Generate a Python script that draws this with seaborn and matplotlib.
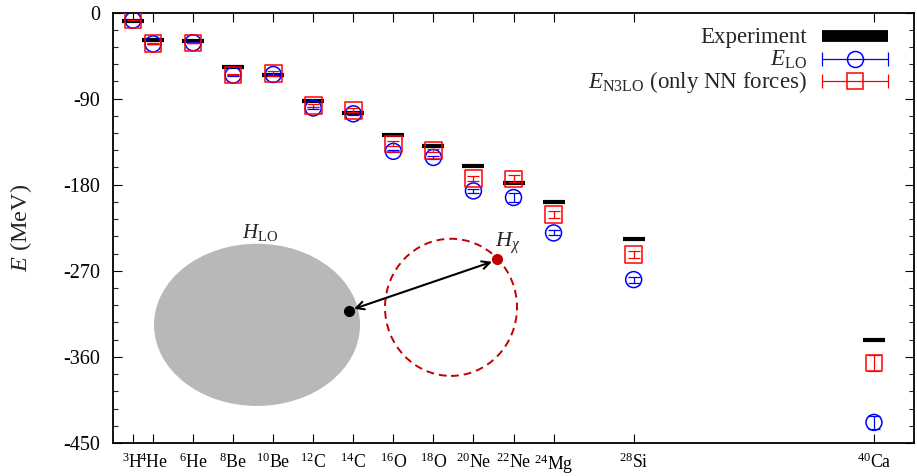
import numpy as np
import pandas as pd
import matplotlib
matplotlib.use("Agg")
import matplotlib.pyplot as plt
import seaborn as sns
from matplotlib.patches import Ellipse

# ---------------- data ----------------
nuclei = ["3H", "4He", "6He", "8Be", "10Be", "12C", "14C", "16O", "18O",
          "20Ne", "22Ne", "24Mg", "28Si", "40Ca"]
mass_number = [3, 4, 6, 8, 10, 12, 14, 16, 18, 20, 22, 24, 28, 40]
tick_labels = [r"$^{3}$H", r"$^{4}$He", r"$^{6}$He", r"$^{8}$Be", r"$^{10}$Be",
               r"$^{12}$C", r"$^{14}$C", r"$^{16}$O", r"$^{18}$O", r"$^{20}$Ne",
               r"$^{22}$Ne", r"$^{24}$Mg", r"$^{28}$Si", r"$^{40}$Ca"]
E_exp = [-8.48, -28.30, -29.27, -56.50, -64.98, -92.16, -105.28, -127.62,
         -139.81, -160.64, -177.77, -198.26, -236.54, -342.05]
E_LO = [-8.0, -32.8, -31.6, -65.5, -64.8, -99.8, -105.9, -145.1, -151.5,
        -186.5, -193.4, -230.4, -279.2, -428.5]
err_LO = [0.1, 0.3, 0.3, 0.4, 0.6, 0.8, 0.8, 1.0, 1.2, 2.3, 4.3, 2.6, 3.1, 6.5]
E_N3LO = [-8.0, -32.5, -32.0, -65.2, -63.9, -97.1, -102.2, -137.4, -144.0,
          -173.2, -173.9, -210.9, -252.7, -366.5]
err_N3LO = [0.1, 0.3, 0.3, 0.5, 2.4, 1.6, 2.0, 2.6, 1.5, 2.6, 3.8, 3.8, 3.8, 8.5]
y_ticks = [0, -90, -180, -270, -360, -450]
legend_labels = ["Experiment", r"$E_{\mathrm{LO}}$", r"$E_{\mathrm{N3LO}}$ (only NN forces)"]

df = pd.DataFrame({"nucleus": nuclei, "A": mass_number, "exp": E_exp,
                   "LO": E_LO, "errLO": err_LO, "N3LO": E_N3LO, "errN3LO": err_N3LO})

# ---------------- style ----------------
sns.set_theme(style="ticks")
plt.rcParams["font.family"] = ["Liberation Serif", "DejaVu Serif"]
plt.rcParams["mathtext.fontset"] = "custom"
plt.rcParams["mathtext.rm"] = "Liberation Serif"
plt.rcParams["mathtext.it"] = "Liberation Serif:italic"
plt.rcParams["mathtext.bf"] = "Liberation Serif:bold"
plt.rcParams["axes.unicode_minus"] = False

BLUE = "#0000ff"
RED = "#ff0000"
DARKRED = "#c00000"

fig = plt.figure(figsize=(9.17, 4.76), dpi=100)
ax = fig.add_axes([113/917, 1-443/476, 801/917, 430.5/476])

# Experiment bars
ax.plot(df["A"], df["exp"], linestyle="none", marker="_", markersize=15.5,
        markeredgewidth=3.0, color="black", zorder=3, solid_capstyle="butt")

# LO: circles + error bars
ax.errorbar(df["A"], df["LO"], yerr=df["errLO"], fmt="none", ecolor=BLUE,
            elinewidth=0.9, capsize=4.3, capthick=0.9, zorder=4)
sns.scatterplot(data=df, x="A", y="LO", marker="o", s=132, facecolor="none",
                edgecolor=BLUE, linewidth=1.1, ax=ax, zorder=4, legend=False)

# N3LO: squares + error bars
ax.errorbar(df["A"], df["N3LO"], yerr=df["errN3LO"], fmt="none", ecolor=RED,
            elinewidth=0.9, capsize=4.3, capthick=0.9, zorder=5)
sns.scatterplot(data=df, x="A", y="N3LO", marker="s", s=144, facecolor="none",
                edgecolor=RED, linewidth=1.1, ax=ax, zorder=5, legend=False)

# ---------------- axes ----------------
ax.set_xlim(2, 42)
ax.set_ylim(-450, 0)
ax.set_xticks(mass_number)
ax.set_xticklabels(tick_labels, fontsize=12.8)
ax.set_yticks(y_ticks)
ax.set_yticklabels([str(v) for v in y_ticks], fontsize=14.5)
ax.set_yticks(np.arange(-450, 1, 18), minor=True)
ax.tick_params(axis="both", which="major", direction="in", length=6.5, width=0.8,
               top=True, right=True, colors="black", labelcolor="black")
ax.tick_params(axis="y", which="minor", direction="in", length=3.6, width=0.8,
               right=True, left=True)
ax.tick_params(axis="x", which="major", pad=7)
ax.tick_params(axis="y", which="major", pad=9)
for sp in ax.spines.values():
    sp.set_visible(True)
    sp.set_linewidth(1.3)
    sp.set_color("black")
ax.set_xlabel("")
ax.set_ylabel(r"$E$ (MeV)", fontsize=17.5)
ax.yaxis.set_label_coords(-0.099, 0.5)

# ---------------- legend (gnuplot style: text right-aligned, sample at right) ----------------
T = ax.transAxes
def ax_x(px):
    return (px - 113) / 801
def ax_y(py):
    return (443 - py) / 430

row_y = [36, 59, 81]
text_x, s0, s1 = 807, 822, 888
for lab, ry in zip(legend_labels, row_y):
    ax.text(ax_x(text_x), ax_y(ry + 7.5), lab, transform=T, fontsize=16.5,
            ha="right", va="baseline")
# Experiment sample
ax.plot([ax_x(s0), ax_x(s1)], [ax_y(row_y[0])] * 2, transform=T, color="black",
        linewidth=8.5, solid_capstyle="butt", clip_on=False)
# LO / N3LO samples
for ry, col, mk, ms in [(row_y[1], BLUE, "o", 11.5), (row_y[2], RED, "s", 12)]:
    ax.plot([ax_x(s0), ax_x(s1)], [ax_y(ry)] * 2, transform=T, color=col,
            linewidth=0.9, marker="|", markersize=9.5, markeredgewidth=0.9, clip_on=False)
    ax.plot([ax_x((s0 + s1) / 2)], [ax_y(ry)], transform=T, color=col, linestyle="none",
            marker=mk, markersize=ms, markerfacecolor="none", markeredgewidth=1.1,
            clip_on=False)

# ---------------- inset sketch ----------------
ax.add_patch(Ellipse((ax_x(257), ax_y(325)), 206/801, 162/430,
                     transform=T, facecolor="#b8b8b8", edgecolor="none", zorder=1))
ax.add_patch(Ellipse((ax_x(451), ax_y(307.5)), 132/801, 137/430,
                     transform=T, facecolor="none", edgecolor=DARKRED,
                     linewidth=1.4, linestyle=(0, (4, 2.6)), zorder=1))
ax.annotate("", xy=(ax_x(354), ax_y(309)), xytext=(ax_x(492), ax_y(262)),
            xycoords=T, textcoords=T,
            arrowprops=dict(arrowstyle="<->", lw=1.5, color="black",
                            mutation_scale=14, shrinkA=0, shrinkB=0), zorder=2)
ax.plot([ax_x(349)], [ax_y(311)], transform=T, marker="o", markersize=7,
        color="black", linestyle="none", zorder=3)
ax.plot([ax_x(497)], [ax_y(259)], transform=T, marker="o", markersize=7,
        color=DARKRED, linestyle="none", zorder=3)
ax.text(ax_x(260), ax_y(233), r"$H_{\mathrm{LO}}$", transform=T,
        fontsize=15, ha="center", va="center")
ax.text(ax_x(508), ax_y(243), r"$H_{\chi}$", transform=T,
        fontsize=16, ha="center", va="center")

fig.savefig("out.png", dpi=100)
